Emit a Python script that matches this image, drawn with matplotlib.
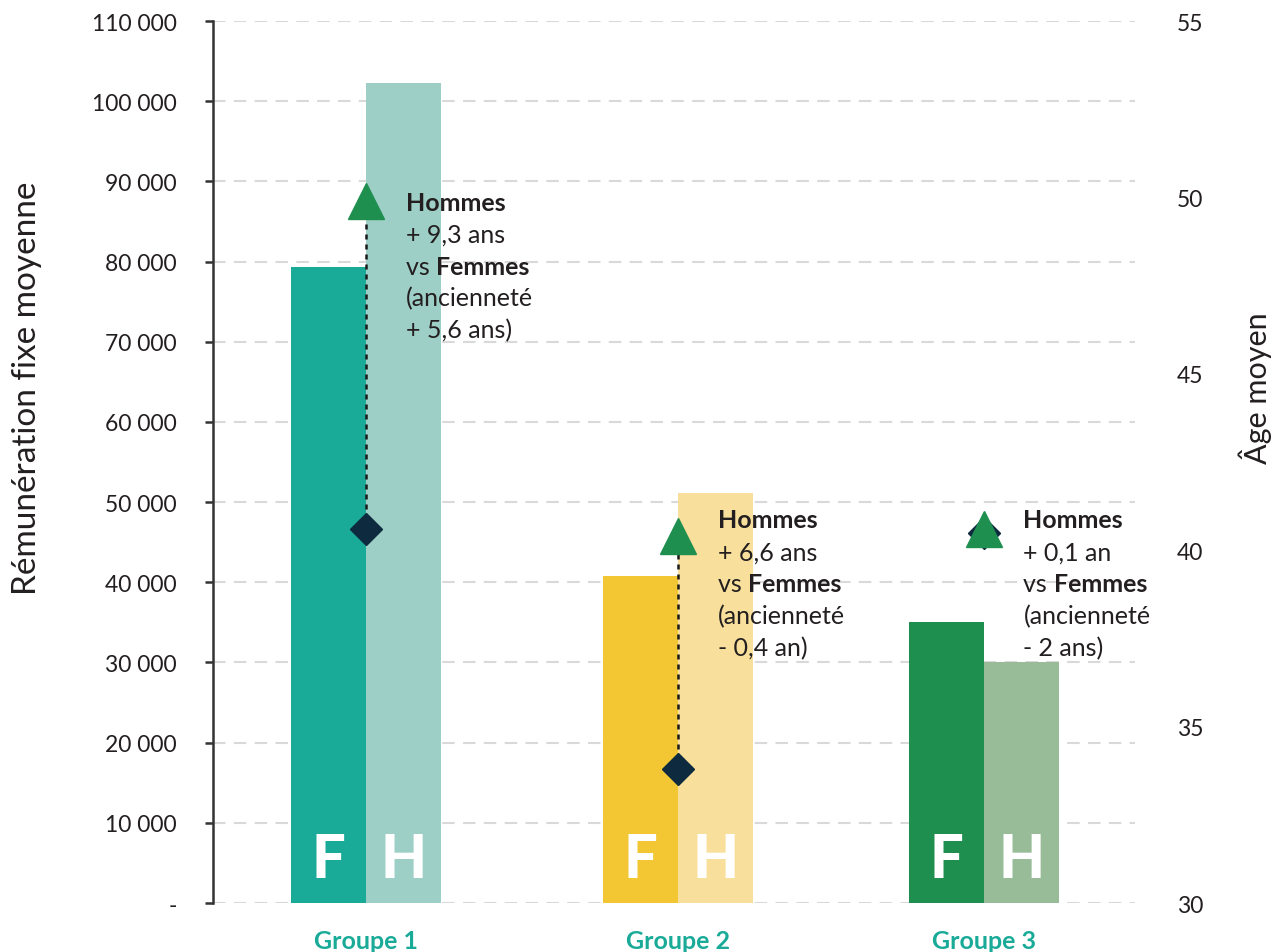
import matplotlib.pyplot as plt
import numpy as np

plt.rcParams['font.family'] = ['Lato', 'DejaVu Sans']

groups = ['Groupe 1', 'Groupe 2', 'Groupe 3']
salaire_f = [79300, 40800, 35000]
salaire_h = [102300, 51100, 30000]
age_f = [40.6, 33.8, 40.5]
age_h = [49.9, 40.4, 40.6]
ecart_age = ['+ 9,3 ans', '+ 6,6 ans', '+ 0,1 an']
ecart_anciennete = ['+ 5,6 ans)', '- 0,4 an)', '- 2 ans)']
yticks_left = [0, 10000, 20000, 30000, 40000, 50000, 60000, 70000, 80000, 90000, 100000, 110000]
yticklabels_left = ['-', '10 000', '20 000', '30 000', '40 000', '50 000', '60 000',
                    '70 000', '80 000', '90 000', '100 000', '110 000']
yticks_right = [30, 35, 40, 45, 50, 55]

colors_f = ['#1aaa98', '#f2c733', '#1f8f50']
colors_h = ['#9ecfc6', '#f8df9b', '#98bb98']
teal = '#1aaa98'
text_col = '#231f20'

fig = plt.figure(figsize=(12.85, 9.53), dpi=100)
ax = fig.add_axes([0.1658, 0.0514, 0.7175, 0.9255])
ax2 = ax.twinx()

# group centres (slightly uneven spacing, as in the original layout)
x = np.array([0.0, 1.01, 2.0])
w = 0.243
ax.bar(x - w / 2, salaire_f, width=w, color=colors_f, zorder=2)
ax.bar(x + w / 2, salaire_h, width=w, color=colors_h, zorder=2)

for i in range(len(groups)):
    ax.text(x[i] - w / 2, 5500, 'F', color='white', fontsize=43, fontweight='black',
            ha='center', va='center', zorder=3)
    ax.text(x[i] + w / 2, 5500, 'H', color='white', fontsize=43, fontweight='black',
            ha='center', va='center', zorder=3)

ax.set_xlim(-0.495, 2.489)
ax.set_ylim(0, 110000)
ax.set_yticks(yticks_left)
ax.set_yticklabels(yticklabels_left)
ax.set_xticks(x)
ax.set_xticklabels(groups, fontsize=18, fontweight='bold', color=teal)
ax.tick_params(axis='x', length=0, pad=19)
ax.tick_params(axis='y', length=6, width=1.8, color='#333333', labelsize=16.5,
               labelcolor=text_col, pad=20)
ax.grid(axis='y', color='#d9d9d9', linewidth=1.5, linestyle=(0, (6, 4)))
ax.set_axisbelow(True)
for s in ['top', 'right', 'bottom']:
    ax.spines[s].set_visible(False)
ax.spines['left'].set_linewidth(1.8)
ax.spines['left'].set_color('#333333')
ax.set_ylabel('Rémunération fixe moyenne', fontsize=24, color=text_col)
ax.yaxis.set_label_coords(-0.186, 0.585)

# age axis
ax2.set_ylim(30, 55)
ax2.set_yticks(yticks_right)
ax2.tick_params(axis='y', length=0, labelsize=16.5, labelcolor=text_col, pad=30)
for s in ax2.spines.values():
    s.set_visible(False)
ax2.set_ylabel('Âge moyen', fontsize=22, color=text_col, rotation=90)
ax2.yaxis.set_label_coords(1.112, 0.585)

for i in range(len(groups)):
    ax2.plot([x[i], x[i]], [age_f[i], age_h[i]], color='#1a1a1a', linewidth=1.8,
             linestyle=(0, (2, 2)), zorder=3)
    ax2.plot(x[i], age_f[i], marker='D', ms=16, color='#0d2a3e', zorder=4)
    ax2.plot(x[i], age_h[i], marker='^', ms=26, color='#1f8f50', zorder=5)

# annotations
text_top = [87400, 47800, 47800]
for i in range(len(groups)):
    xy = (x[i] + 0.128, text_top[i])
    step = 23
    ax.annotate('Hommes', xy=xy, xytext=(0, 0), textcoords='offset points',
                fontsize=18, fontweight='bold', color=text_col, va='center', ha='left', zorder=6)
    ax.annotate(ecart_age[i], xy=xy, xytext=(0, -step), textcoords='offset points',
                fontsize=18, color=text_col, va='center', ha='left', zorder=6)
    t_vs = ax.annotate('vs ', xy=xy, xytext=(0, -2 * step), textcoords='offset points',
                       fontsize=18, color=text_col, va='center', ha='left', zorder=6)
    ax.annotate('Femmes', xy=(1, 0.5), xycoords=t_vs, fontsize=18, fontweight='bold',
                color=text_col, va='center', ha='left', zorder=6)
    ax.annotate('(ancienneté', xy=xy, xytext=(0, -3 * step), textcoords='offset points',
                fontsize=18, color=text_col, va='center', ha='left', zorder=6)
    ax.annotate(ecart_anciennete[i], xy=xy, xytext=(0, -4 * step), textcoords='offset points',
                fontsize=18, color=text_col, va='center', ha='left', zorder=6)

plt.savefig('out.png', dpi=100)
